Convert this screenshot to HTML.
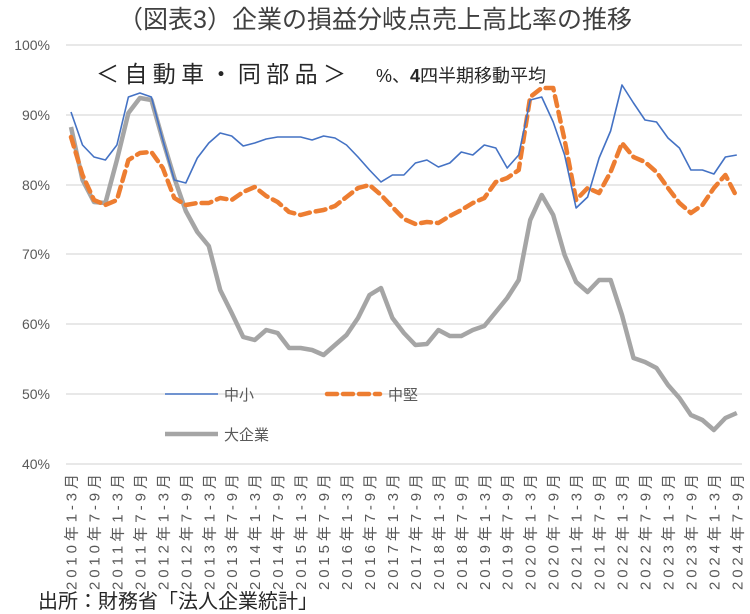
<!DOCTYPE html>
<html><head><meta charset="utf-8"><style>
body{margin:0;background:#fff;}
svg{display:block;font-family:"Liberation Sans","Noto Sans CJK JP",sans-serif;}
</style></head><body>
<svg width="750" height="614" viewBox="0 0 750 614" xmlns="http://www.w3.org/2000/svg">
<text x="375" y="28" text-anchor="middle" font-size="25" fill="#404040">（図表3）企業の損益分岐点売上高比率の推移</text>
<text x="96" y="82" font-size="23" fill="#262626" textLength="250">＜自動車・同部品＞</text>
<text x="376" y="82" font-size="18" fill="#262626">%、<tspan font-weight="bold">4</tspan>四半期移動平均</text>
<g stroke="#d9d9d9" stroke-width="1.3">
<line x1="66" x2="742" y1="45" y2="45"/><line x1="66" x2="742" y1="115" y2="115"/>
<line x1="66" x2="742" y1="185" y2="185"/><line x1="66" x2="742" y1="254" y2="254"/>
<line x1="66" x2="742" y1="324" y2="324"/><line x1="66" x2="742" y1="394" y2="394"/>
<line x1="66" x2="742" y1="464" y2="464"/></g>
<g font-size="14" fill="#595959" text-anchor="end">
<text x="50" y="50">100%</text><text x="50" y="120">90%</text><text x="50" y="190">80%</text>
<text x="50" y="259">70%</text><text x="50" y="329">60%</text><text x="50" y="399">50%</text><text x="50" y="469">40%</text></g>
<g id="xl" font-size="15" fill="#595959" text-anchor="end"></g>
<polyline id="pg" fill="none" stroke="#a5a5a5" stroke-width="4.5" stroke-linejoin="round"/>
<polyline id="po" fill="none" stroke="#ed7d31" stroke-width="4.5" stroke-dasharray="10,6" stroke-linecap="round" stroke-linejoin="round"/>
<polyline id="pb" fill="none" stroke="#4472c4" stroke-width="1.6" stroke-linejoin="round"/>
<line x1="165" x2="218" y1="394" y2="394" stroke="#4472c4" stroke-width="1.6"/>
<text x="224" y="400" font-size="15" fill="#595959">中小</text>
<line x1="327" x2="380" y1="394" y2="394" stroke="#ed7d31" stroke-width="4.5" stroke-dasharray="10,6" stroke-linecap="round"/>
<text x="388" y="400" font-size="15" fill="#595959">中堅</text>
<line x1="165" x2="218" y1="434" y2="434" stroke="#a5a5a5" stroke-width="4.5"/>
<text x="224" y="440" font-size="15" fill="#595959">大企業</text>
<text x="38" y="608" font-size="20" fill="#262626">出所：財務省「法人企業統計」</text>
</svg>
<script>
var B=[112,145,157,160,145,97,93,97,140,180,183,158,143,133,136,146,143,139,137,137,137,140,136,138,145,157,170,182,175,175,163,160,167,163,152,155,145,148,168,155,100,97,122,155,208,197,158,131,85,103,120,122,138,148,170,170,174,157,155];
var O=[137,175,200,205,200,160,153,152,168,198,205,203,203,198,200,192,187,196,202,212,215,212,210,206,197,188,185,195,207,219,224,222,223,216,210,203,198,182,178,170,97,88,88,140,200,188,193,172,143,157,162,172,188,203,213,205,188,175,197];
var G=[127,180,202,203,160,113,98,100,140,178,211,232,246,290,313,337,340,330,333,348,348,350,355,345,335,318,295,288,318,333,345,344,330,336,336,330,326,312,298,280,220,195,215,255,282,292,280,280,315,358,362,368,385,398,415,420,430,418,413];
function pts(a){return a.map(function(v,i){return (71+11.48*i).toFixed(1)+","+v}).join(" ");}
document.getElementById("pb").setAttribute("points",pts(B));
document.getElementById("po").setAttribute("points",pts(O));
document.getElementById("pg").setAttribute("points",pts(G));
var g=document.getElementById("xl"),s="";
for(var k=0;k<30;k++){var y=2010+Math.floor(k/2);if(y>2024)break;var lab=y+"年"+(k%2?"7-9月":"1-3月");var x=71+22.96*k+5.5;
s+='<text transform="translate('+x.toFixed(1)+',474) rotate(-90)" textLength="116" lengthAdjust="spacing">'+lab+'</text>';}
g.innerHTML=s;
</script>
</body></html>
